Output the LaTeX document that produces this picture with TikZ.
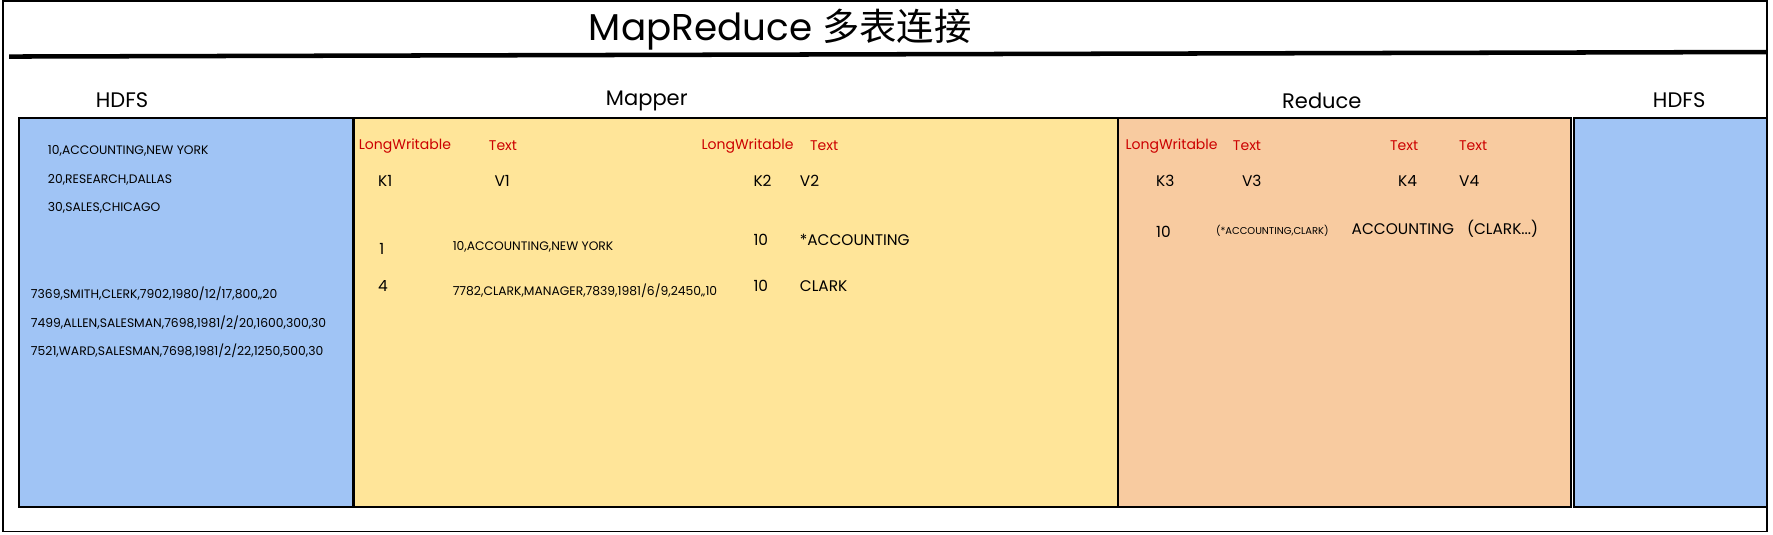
\documentclass[tikz,border=0pt]{standalone}
\usepackage{fontspec}
\setmainfont{Poppins}
\newfontfamily\cjkfont{Noto Sans CJK SC}
\usetikzlibrary{positioning}
\definecolor{hdfsblue}{RGB}{160,196,245}
\definecolor{mapyellow}{RGB}{255,229,153}
\definecolor{reduceorange}{RGB}{248,203,160}
\definecolor{typered}{RGB}{204,0,0}

\begin{document}
\begin{tikzpicture}[x=0.5pt,y=-0.5pt,
    stage/.style={draw, line width=0.9pt},
    heading/.style={font=\fontsize{9.3}{11}\selectfont, inner sep=0pt},
    wtype/.style={anchor=west, inner sep=0pt, text=typered, font=\fontsize{6.2}{7}\selectfont},
    kv/.style={anchor=west, inner sep=0pt, font=\fontsize{6.8}{8}\selectfont},
    rec/.style={anchor=west, inner sep=0pt, font=\fontsize{5.45}{6}\selectfont},
    tiny/.style={anchor=west, inner sep=0pt, font=\fontsize{4.4}{5}\selectfont}]
    \useasboundingbox (0,0) rectangle (1568,473);
    % frame and title
    \draw [thick] (3,1) rectangle (1563,470);
    \draw [line width=2pt] (8,50) -- (1562,46);
    \node [inner sep=0pt, font=\fontsize{16.5}{18}\selectfont] (title) at (690,26) {MapReduce {\cjkfont 多表连接}};
    % stages
    \draw [stage, fill=hdfsblue] (17,104) rectangle (312,448);
    \draw [stage, fill=mapyellow] (313,104) rectangle (989,448);
    \draw [stage, fill=reduceorange] (989,104) rectangle (1389,448);
    \draw [stage, fill=hdfsblue] (1392,104) rectangle (1563,448);
    \node [heading] (hdfsin) at (108,89) {HDFS};
    \node [heading] (mapper) at (572,89) {Mapper};
    \node [heading] (reduce) at (1169,89) {Reduce};
    \node [heading] (hdfsout) at (1485,89) {HDFS};
    % input records
    \node [rec] (dept1) at (42,133) {10,ACCOUNTING,NEW YORK};
    \node [rec] (dept2) at (42,159) {20,RESEARCH,DALLAS};
    \node [rec] (dept3) at (42,184) {30,SALES,CHICAGO};
    \node [rec] (emp1) at (27,260) {7369,SMITH,CLERK,7902,1980/12/17,800,,20};
    \node [rec] (emp2) at (27,285) {7499,ALLEN,SALESMAN,7698,1981/2/20,1600,300,30};
    \node [rec] (emp3) at (27,310) {7521,WARD,SALESMAN,7698,1981/2/22,1250,500,30};
    % mapper
    \node [wtype] (t1) at (317,129) {LongWritable};
    \node [wtype] (t2) at (432,129) {Text};
    \node [wtype] (t3) at (620,129) {LongWritable};
    \node [wtype] (t4) at (716,129) {Text};
    \node [kv] (k1) at (334,160) {K1};
    \node [kv] (v1) at (437,160) {V1};
    \node [kv] (k2) at (666,160) {K2};
    \node [kv] (v2) at (707,160) {V2};
    \node [kv] (m1k) at (335,220) {1};
    \node [rec] (m1v) at (400,218) {10,ACCOUNTING,NEW YORK};
    \node [kv] (m2k) at (334,253) {4};
    \node [rec] (m2v) at (400,257) {7782,CLARK,MANAGER,7839,1981/6/9,2450,,10};
    \node [kv] (o1k) at (666,212) {10};
    \node [kv] (o1v) at (707,212) {*ACCOUNTING};
    \node [kv] (o2k) at (666,253) {10};
    \node [kv] (o2v) at (707,253) {CLARK};
    % reduce
    \node [wtype] (t5) at (995,129) {LongWritable};
    \node [wtype] (t6) at (1090,129) {Text};
    \node [wtype] (t7) at (1229,129) {Text};
    \node [wtype] (t8) at (1290,129) {Text};
    \node [kv] (k3) at (1022,160) {K3};
    \node [kv] (v3) at (1098,160) {V3};
    \node [kv] (k4) at (1236,160) {K4};
    \node [kv] (v4) at (1290,160) {V4};
    \node [kv] (r1k) at (1022,205) {10};
    \node [tiny] (r1v) at (1075,204) {(*ACCOUNTING,CLARK)};
    \node [kv] (r2k) at (1195,203) {ACCOUNTING};
    \node [kv] (r2v) at (1297,202) {(CLARK...)};
\end{tikzpicture}
\end{document}
